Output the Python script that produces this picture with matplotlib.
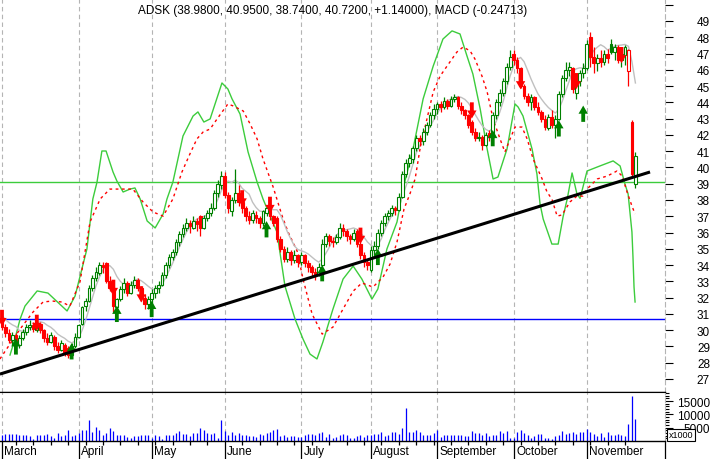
import matplotlib
matplotlib.use("Agg")
import numpy as np
import pandas as pd
import matplotlib.pyplot as plt
from matplotlib.patches import Rectangle
from matplotlib.transforms import blended_transform_factory

plt.rcParams['font.family'] = ['Liberation Sans', 'DejaVu Sans']

# ---------------------------------------------------------------
# data (one entry per trading day)
# ---------------------------------------------------------------
months = ['March', 'April', 'May', 'June', 'July', 'August',
          'September', 'October', 'November']
month_start = [0, 22, 43, 64, 86, 106, 125, 147, 168]

opens = [
    # March
    30.6, 30.2, 29.8, 29.4, 29.7, 29.1, 29.5, 29.9, 30.2, 30.3, 30.0, 30.4, 30.0, 29.5, 29.3, 29.6, 29.0, 28.8, 29.1, 28.9, 28.5, 29.0,
    # April
    29.6, 30.4, 31.5, 31.8, 32.6, 33.2, 33.5, 34.0, 34.1, 33.0, 32.6, 31.4, 31.9, 32.5, 32.9, 32.3, 32.8, 33.1, 32.6, 32.0, 31.6,
    # May
    31.9, 32.3, 32.6, 32.8, 33.4, 34.0, 34.5, 34.8, 35.4, 35.9, 36.3, 36.6, 36.3, 36.7, 37.0, 36.3, 36.9, 37.2, 37.5, 38.4, 38.9,
    # June
    39.5, 38.3, 37.3, 38.0, 38.4, 37.9, 37.5, 37.0, 36.8, 37.1, 36.9, 36.6, 37.2, 37.5, 37.0, 36.9, 35.6, 35.0, 34.4, 34.8, 34.3, 34.6,
    # July
    34.2, 34.6, 34.1, 33.9, 33.6, 33.4, 34.0, 35.3, 35.8, 35.5, 35.4, 35.7, 36.3, 36.1, 35.8, 35.6, 36.1, 35.3, 34.6, 34.2,
    # August
    33.7, 34.9, 35.2, 36.0, 36.6, 37.0, 37.2, 37.5, 37.4, 38.2, 39.6, 40.3, 40.5, 41.2, 41.8, 41.6, 42.2, 42.6, 43.2,
    # September
    43.6, 43.9, 43.7, 44.1, 43.8, 44.2, 44.3, 43.8, 43.5, 43.2, 42.8, 42.2, 41.8, 41.9, 41.4, 42.1, 41.9, 43.2, 44.0, 44.6, 45.3, 46.2,
    # October
    47.0, 46.6, 46.1, 45.0, 44.4, 44.0, 44.3, 43.7, 43.4, 43.0, 42.4, 43.1, 42.6, 43.0, 44.5, 45.5, 46.0, 46.1, 44.6, 45.3, 45.8,
    # November
    46.1, 48.0, 46.8, 46.4, 46.7, 46.5, 47.0, 47.6, 47.1, 47.4, 46.6, 46.9, 45.9, 42.8, 38.98,
]
highs = [
    30.9, 30.4, 30.1, 29.9, 29.8, 29.7, 30.1, 30.4, 30.6, 30.5, 30.6, 30.5, 30.1, 29.8, 29.9, 29.7, 29.3, 29.4, 29.2, 29.0, 29.2, 29.8,
    30.4, 31.5, 32.0, 32.8, 33.4, 33.9, 34.2, 34.2, 34.2, 33.3, 32.8, 32.0, 32.7, 33.2, 33.0, 33.0, 33.3, 33.2, 32.7, 32.2, 32.1,
    32.5, 32.8, 33.0, 33.6, 34.2, 34.7, 35.0, 35.6, 36.1, 36.5, 36.9, 36.8, 37.0, 36.9, 37.1, 37.1, 37.4, 37.8, 38.6, 39.2, 39.8,
    39.7, 38.5, 38.2, 39.9, 38.9, 38.1, 37.6, 37.3, 37.4, 37.3, 37.0, 37.4, 37.7, 37.8, 37.1, 37.0, 35.8, 35.2, 35.1, 34.9, 34.9, 34.7,
    34.8, 34.7, 34.3, 34.0, 33.8, 34.1, 35.6, 36.0, 35.9, 35.7, 35.9, 36.6, 36.5, 36.2, 35.9, 36.2, 36.2, 35.5, 34.8, 34.4,
    35.2, 35.5, 36.2, 36.8, 37.2, 37.4, 37.7, 37.6, 38.4, 39.8, 40.5, 40.8, 41.3, 42.0, 42.0, 42.4, 42.8, 43.4, 43.9,
    44.0, 44.1, 44.3, 44.2, 44.4, 44.5, 44.4, 44.0, 43.6, 43.3, 42.9, 42.4, 42.2, 42.0, 42.2, 42.3, 43.4, 44.2, 44.8, 45.5, 46.4, 47.2,
    47.2, 46.8, 46.2, 45.1, 44.6, 44.5, 44.4, 44.0, 43.5, 43.2, 43.3, 43.5, 43.2, 44.7, 45.7, 46.5, 46.5, 46.2, 45.4, 46.0, 46.4,
    47.8, 48.3, 47.4, 47.0, 47.2, 47.2, 47.3, 47.9, 47.6, 47.5, 47.3, 47.5, 47.3, 42.9, 40.95,
]
lows = [
    30.0, 29.6, 29.2, 29.1, 28.9, 28.9, 29.4, 29.7, 30.0, 29.9, 29.9, 29.8, 29.3, 29.1, 29.2, 28.8, 28.6, 28.7, 28.4, 28.3, 28.4, 28.9,
    29.5, 30.3, 31.2, 31.7, 32.4, 33.0, 33.4, 33.5, 32.9, 32.4, 31.1, 31.2, 31.8, 32.3, 32.1, 32.2, 32.6, 32.4, 31.8, 31.3, 31.3,
    31.5, 32.0, 32.3, 32.7, 33.2, 33.8, 34.3, 34.6, 35.2, 35.7, 36.1, 36.0, 36.2, 36.1, 35.8, 36.2, 36.7, 37.0, 37.4, 38.2, 38.7,
    38.1, 37.2, 37.0, 37.8, 37.6, 37.2, 36.7, 36.5, 36.6, 36.6, 36.3, 36.4, 37.0, 36.8, 36.4, 35.4, 34.8, 34.2, 34.2, 34.0, 34.1, 33.9,
    34.0, 33.9, 33.6, 33.3, 33.1, 33.3, 33.9, 35.1, 35.2, 35.1, 35.3, 35.6, 35.8, 35.5, 35.3, 35.5, 35.1, 34.4, 33.9, 33.7,
    33.6, 34.6, 35.0, 35.8, 36.4, 36.8, 37.0, 37.1, 37.3, 38.1, 39.4, 40.0, 40.3, 41.0, 41.3, 41.4, 42.0, 42.5, 43.0,
    43.3, 43.4, 43.6, 43.6, 43.7, 44.0, 43.6, 43.3, 43.0, 42.4, 42.0, 41.6, 41.6, 41.1, 41.3, 41.6, 41.8, 43.0, 43.8, 44.4, 45.1, 46.0,
    46.3, 45.8, 44.9, 44.2, 43.8, 43.5, 43.5, 43.2, 42.8, 42.3, 42.3, 42.4, 41.8, 42.9, 44.3, 45.3, 45.6, 44.6, 44.2, 45.0, 45.5,
    46.0, 46.2, 45.8, 45.9, 46.2, 46.3, 46.4, 47.0, 46.6, 46.4, 46.2, 46.3, 45.0, 39.5, 38.74,
]
closes = [
    30.2, 29.8, 29.4, 29.7, 29.2, 29.5, 29.9, 30.2, 30.3, 30.1, 30.4, 30.0, 29.5, 29.3, 29.7, 29.0, 28.8, 29.2, 28.6, 28.5, 29.0, 29.6,
    30.3, 31.4, 31.8, 32.6, 33.2, 33.6, 34.0, 33.9, 33.0, 32.6, 31.5, 31.9, 32.5, 32.9, 32.3, 32.8, 33.1, 32.6, 32.0, 31.6, 31.9,
    32.3, 32.6, 32.8, 33.4, 34.0, 34.5, 34.8, 35.4, 35.9, 36.3, 36.6, 36.4, 36.7, 36.5, 36.3, 36.9, 37.2, 37.5, 38.4, 39.0, 39.5,
    38.3, 37.5, 38.0, 38.4, 37.9, 37.5, 37.0, 36.8, 37.2, 36.9, 36.6, 37.3, 37.5, 37.0, 36.6, 35.6, 35.0, 34.4, 34.8, 34.3, 34.6, 34.2,
    34.6, 34.1, 33.9, 33.6, 33.4, 33.9, 35.3, 35.8, 35.5, 35.4, 35.7, 36.3, 36.1, 35.8, 35.6, 36.0, 35.3, 34.6, 34.2, 34.0,
    34.9, 35.2, 36.0, 36.6, 37.0, 37.2, 37.5, 37.4, 38.2, 39.6, 40.3, 40.6, 41.2, 41.8, 41.6, 42.2, 42.6, 43.2, 43.6,
    43.9, 43.7, 44.1, 43.8, 44.2, 44.3, 43.8, 43.5, 43.2, 42.6, 42.2, 41.8, 41.9, 41.4, 42.0, 41.9, 43.2, 44.0, 44.6, 45.3, 46.2, 46.8,
    46.6, 46.1, 45.0, 44.4, 44.0, 44.3, 43.7, 43.4, 43.0, 42.5, 43.1, 42.6, 43.0, 44.5, 45.5, 46.0, 46.2, 44.8, 45.3, 45.8, 46.1,
    47.6, 46.8, 46.4, 46.7, 46.5, 47.0, 46.7, 47.1, 47.4, 46.6, 47.0, 47.4, 47.2, 39.58, 40.72,
]
# volume, shown in units of 1000 shares
volume = [
    2100, 2500, 2500, 2750, 2750, 2400, 2400, 2400, 1900, 900, 2100, 2400, 2400, 2750, 1900, 1100, 3100, 1900, 2100, 4250, 1750, 2400,
    3100, 4250, 4250, 7750, 3400, 5400, 4000, 2400, 2900, 5000, 3750, 2400, 2100, 2400, 1500, 1100, 1900, 1900, 2100, 2100, 2100,
    1100, 2100, 1900, 900, 2400, 2400, 2100, 3000, 3750, 2600, 2600, 1900, 2900, 3000, 5000, 4000, 2900, 2500, 3000, 1100, 7750,
    3750, 2400, 3400, 2100, 3000, 2400, 2400, 1900, 1900, 1500, 2750, 2400, 3000, 3400, 4250, 4600, 1900, 2400, 1500, 1900, 1900, 1500,
    1600, 2100, 2500, 2750, 2100, 3000, 3400, 1600, 2750, 1250, 1500, 2100, 2750, 2100, 1250, 1250, 1900, 2400, 1400, 2100,
    2400, 2750, 2750, 3500, 1900, 2100, 3500, 3400, 2600, 4900, 12500, 3400, 3400, 4000, 3400, 2100, 2100, 2100, 3100,
    4250, 1500, 2400, 2400, 2100, 2100, 2100, 2400, 1900, 1900, 3750, 3100, 2900, 2100, 2900, 1900, 2100, 2100, 3750, 3100, 3750, 1100,
    1250, 3400, 4250, 3000, 2100, 1250, 1750, 2500, 2750, 1250, 1250, 900, 1900, 2100, 3900, 2750, 2900, 3400, 2500, 3400, 3500,
    4600, 3400, 2500, 1900, 2900, 1500, 3400, 2400, 2100, 2600, 2400, 2000, 6500, 16900, 8100,
]

# green indicator line (bar position, price)
green_x = [2.3, 3.7, 5.2, 6.6, 10.1, 13.2, 18.7, 21.0, 24.4, 26.1, 27.3, 28.7, 29.9, 31.9, 33.0, 34.8, 36.8, 38.2,
           39.7, 41.7, 44.0, 46.3, 47.4, 49.1, 52.0, 54.9, 56.3, 58.0, 59.8, 63.2, 64.9, 66.1, 68.4, 70.7, 73.3,
           75.0, 79.0, 81.3, 84.2, 86.5, 88.5, 90.5, 92.2, 95.1, 98.0, 100.9, 103.4, 106.3, 108.0, 110.6, 113.5,
           115.2, 118.1, 121.0, 123.9, 126.7, 129.3, 131.6, 133.6, 135.3, 137.4, 139.4, 141.1, 142.5, 145.1, 147.4,
           148.3, 149.7, 152.3, 153.7, 154.6, 155.5, 158.0, 159.8, 161.2, 162.4, 163.8, 165.2, 166.1, 168.1, 171.8,
           175.6, 177.6, 179.0, 179.9, 181.0, 181.3, 181.6, 181.9]
green_y = [28.47, 29.45, 30.68, 31.48, 32.41, 32.28, 31.18, 32.10, 34.99, 38.06, 39.10, 41.01, 41.01, 39.72, 39.17,
           38.49, 38.67, 38.74, 38.06, 36.71, 36.28, 37.14, 38.06, 39.10, 41.93, 43.16, 43.41, 42.79, 42.98, 45.19,
           44.82, 44.21, 43.28, 40.95, 39.10, 38.06, 36.03, 32.71, 30.68, 29.45, 28.53, 28.23, 29.27, 31.30, 33.14,
           33.94, 33.14, 31.91, 32.53, 34.99, 36.65, 38.67, 41.13, 44.21, 46.23, 47.89, 48.39, 48.20, 46.85, 45.74,
           43.59, 41.13, 39.29, 39.41, 41.13, 43.90, 43.71, 43.16, 41.13, 39.60, 37.75, 36.83, 35.29, 35.29, 36.95,
           38.06, 39.66, 38.37, 38.10, 39.78, 40.09, 40.40, 40.09, 38.98, 38.37, 36.03, 34.49, 32.65, 31.73]

# red dotted indicator line (bar position, price)
red_x = [-0.6, 2.3, 5.2, 8.9, 11.8, 14.4, 17.2, 19.5, 22.4, 25.3, 28.2, 31.0, 33.9, 37.6, 40.5, 43.4, 46.3, 49.1,
         51.7, 54.0, 56.0, 57.8, 59.8, 61.8, 64.9, 66.4, 69.3, 71.3, 73.3, 75.0, 77.9, 80.5, 82.2, 84.8, 86.5, 89.1,
         92.0, 95.1, 98.0, 100.9, 103.4, 106.6, 109.5, 111.5, 113.5, 115.5, 117.2, 118.7, 120.1, 122.1, 123.9, 125.9,
         128.7, 130.7, 132.5, 134.5, 135.9, 137.9, 139.4, 141.1, 143.1, 144.5, 146.0, 147.4, 149.4, 150.9, 152.6,
         155.2, 156.6, 158.0, 159.5, 160.9, 163.2, 165.2, 166.9, 168.1, 171.0, 173.9, 176.7, 178.2, 179.6, 181.0, 181.9]
red_y = [28.23, 29.15, 30.07, 31.11, 31.73, 31.79, 31.73, 31.48, 32.96, 36.65, 38.06, 38.67, 38.67, 38.67, 37.88,
         37.26, 37.01, 38.06, 39.72, 40.83, 41.75, 42.18, 42.36, 42.98, 43.90, 43.78, 43.47, 42.67, 41.75, 40.52,
         38.80, 37.01, 36.03, 34.86, 33.14, 30.99, 29.76, 30.19, 31.30, 32.40, 32.90, 32.65, 33.27, 34.06, 35.42,
         37.44, 38.37, 39.29, 41.13, 42.98, 44.64, 45.62, 46.48, 47.09, 47.40, 47.16, 46.66, 45.62, 44.64, 42.98,
         41.75, 40.95, 41.75, 42.48, 42.48, 41.75, 40.52, 39.29, 38.49, 38.06, 37.01, 37.08, 37.88, 38.24, 38.24,
         38.67, 39.29, 39.47, 39.78, 39.47, 38.49, 37.63, 37.14]

# signal arrows (bar, price at the arrow tip)
red_arrow_bar = [0, 10, 32, 40, 69, 77, 103, 135, 149, 165, 178]
red_arrow_tip = [30.25, 29.95, 32.1, 31.7, 37.6, 37.2, 35.3, 43.0, 44.8, 44.8, 46.4]
green_arrow_bar = [4, 20, 33, 43, 76, 92, 108, 141, 160, 167]
green_arrow_tip = [29.5, 29.2, 31.5, 31.8, 36.7, 34.0, 35.0, 42.3, 42.9, 43.8]

trend_x = [-0.6, 186.2]
trend_y = [27.3, 39.72]
support_green = 39.1
support_blue = 30.68
macd_value = -0.24713

# ---------------------------------------------------------------
# figure
# ---------------------------------------------------------------
GREEN = '#008000'
RED = '#ff0000'
LIME = '#3ccc3c'
GRID = '#b4b4b4'

fig = plt.figure(figsize=(7.14, 4.60), dpi=100)
ax = fig.add_axes([0, 1 - 393 / 460, 665 / 714, 393 / 460])
axv = fig.add_axes([0, 1 - 442 / 460, 665 / 714, 49 / 460])

xmin, xmax = -0.575, 190.5
for a in (ax, axv):
    a.set_xlim(xmin, xmax)
    for m in month_start:
        a.axvline(m, color=GRID, lw=0.8, ls=(0, (4, 3)), zorder=0)
    a.spines['left'].set_visible(False)
    a.spines['top'].set_visible(False)
    a.spines['right'].set_color(GRID)
    a.spines['right'].set_linestyle((0, (4, 3)))
    a.spines['right'].set_linewidth(0.8)
    a.spines['bottom'].set_linewidth(1.0)

ax.set_ylim(26.20, 50.35)

# horizontal levels
ax.axhline(support_green, color=LIME, lw=1.0, zorder=1)
ax.axhline(support_blue, color='#0000ff', lw=1.0, zorder=1)

# indicator lines
ax.plot(green_x, green_y, color=LIME, lw=1.0, zorder=2)
ax.plot(red_x, red_y, color=RED, lw=1.0, ls=(0, (2, 2.5)), zorder=2)
grey = pd.Series(highs).rolling(5, min_periods=1).mean()
ax.plot(np.arange(len(highs)), grey, color='#c0c0c0', lw=1.0, zorder=2.5)

# candles
bw = 0.8
for i in range(len(closes)):
    o, h, l, c = opens[i], highs[i], lows[i], closes[i]
    prev = closes[i - 1] if i > 0 else o
    col = GREEN if c >= prev else RED
    ax.vlines(i, l, h, color=col, lw=0.9, zorder=3)
    lo, hgt = min(o, c), max(abs(c - o), 0.04)
    face = 'white' if c > o else col
    ax.add_patch(Rectangle((i - bw / 2, lo), bw, hgt, facecolor=face,
                           edgecolor=col, lw=0.8, zorder=3.2))

# signal arrows
alen, hlen = 1.0, 0.5
for b, t in zip(red_arrow_bar, red_arrow_tip):
    ax.arrow(b, t + alen, 0, -alen, width=1.1, head_width=2.7, head_length=hlen,
             length_includes_head=True, color=RED, lw=0, zorder=5)
for b, t in zip(green_arrow_bar, green_arrow_tip):
    ax.arrow(b, t - alen, 0, alen, width=1.1, head_width=2.7, head_length=hlen,
             length_includes_head=True, color=GREEN, lw=0, zorder=5)

# trend line
ax.plot(trend_x, trend_y, color='black', lw=2.2, solid_capstyle='butt', zorder=6)

# title
title = 'ADSK (%.4f, %.4f, %.4f, %.4f, %+.5f), MACD (%.5f)' % (
    opens[-1], highs[-1], lows[-1], closes[-1], closes[-1] - closes[-2], macd_value)
ax.text(0.5, 1 - 11 / 393, title, transform=ax.transAxes, ha='center', va='center',
        fontsize=8.5)

# price axis on the right
ax.set_xticks([])
ax.yaxis.tick_right()
ticks = list(range(27, 51))
ax.set_yticks(ticks)
ax.set_yticklabels([str(t) if t < 50 else '' for t in ticks], ha='right')
ax.tick_params(axis='y', which='major', direction='out', length=6, width=0.8,
               pad=26.4, labelsize=8.5)

# volume panel
idx = np.arange(len(volume))
axv.vlines(idx, 0, volume, color='#0000ff', lw=0.9, zorder=2)
axv.set_ylim(0, 18400)
axv.yaxis.tick_right()
axv.set_yticks([5000, 10000, 15000])
axv.set_yticks(range(1000, 19000, 1000), minor=True)
axv.set_yticklabels(['5000', '10000', '15000'], ha='right')
axv.tick_params(axis='y', which='major', direction='out', length=6, width=0.8,
                pad=26.4, labelsize=8.5)
axv.tick_params(axis='y', which='minor', direction='out', length=3, width=0.8)
axv.spines['top'].set_visible(True)
axv.spines['top'].set_color('black')

weekly = [w for w in range(4, 183, 5) if w not in month_start]
axv.set_xticks(month_start + [xmax])
axv.set_xticks(weekly, minor=True)
axv.set_xticklabels([])
axv.tick_params(axis='x', which='major', direction='out', length=13, width=0.9)
axv.tick_params(axis='x', which='minor', direction='out', length=3, width=0.9)

trans = blended_transform_factory(axv.transData, axv.transAxes)
for m, name in zip(month_start, months):
    axv.text(m + 0.7, -0.21, name, transform=trans, ha='left', va='center', fontsize=8.5)

# unit box, drawn over the lowest volume label as in the original
fig.text(681 / 714, 1 - 436 / 460, 'x1000', ha='center', va='center', fontsize=6.5,
         bbox=dict(boxstyle='square,pad=0.2', fc='white', ec='black', lw=0.8), zorder=10)

fig.savefig('out.png', dpi=100)
